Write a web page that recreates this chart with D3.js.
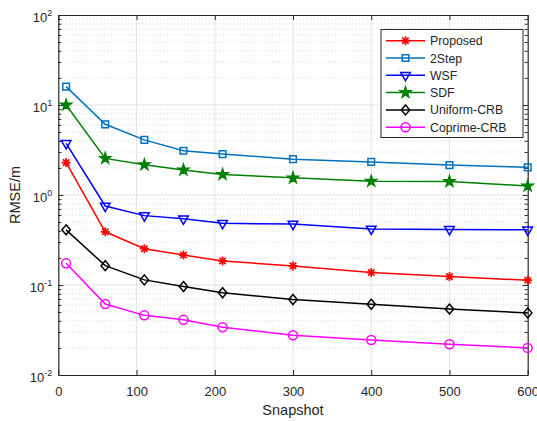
<!DOCTYPE html>
<html>
<head>
<meta charset="utf-8">
<script src="https://cdn.jsdelivr.net/npm/d3@7"></script>
<style>
  body { margin: 0; background: #fff; }
  text { font-family: 'Liberation Sans', Arial, sans-serif; fill: #262626; }
</style>
</head>
<body>
<figure style="margin:0"></figure>
<script>
const width = 537
const height = 421

// data
const snapshots = [10, 60, 110, 160, 210, 300, 400, 500, 600]
const proposed = [2.29, 0.39, 0.253, 0.215, 0.185, 0.163, 0.138, 0.124, 0.113]
const twoStep = [16, 6.1, 4.1, 3.1, 2.85, 2.5, 2.33, 2.15, 2.03]
const wsf = [3.75, 0.755, 0.59, 0.545, 0.485, 0.475, 0.42, 0.415, 0.41]
const sdf = [10, 2.55, 2.17, 1.9, 1.69, 1.55, 1.42, 1.41, 1.26]
const uniformCrb = [0.41, 0.164, 0.114, 0.096, 0.082, 0.069, 0.061, 0.054, 0.049]
const coprimeCrb = [0.174, 0.0615, 0.046, 0.041, 0.034, 0.0276, 0.0245, 0.022, 0.02]

const xTicks = [0, 100, 200, 300, 400, 500, 600]
const yDecades = [0.01, 0.1, 1, 10, 100]

const series = [
  { name: 'Proposed', values: proposed, color: '#ff0000', marker: 'asterisk' },
  { name: '2Step', values: twoStep, color: '#0072bd', marker: 'square' },
  { name: 'WSF', values: wsf, color: '#0000ff', marker: 'triangleDown' },
  { name: 'SDF', values: sdf, color: '#008000', marker: 'star' },
  { name: 'Uniform-CRB', values: uniformCrb, color: '#000000', marker: 'diamond' },
  { name: 'Coprime-CRB', values: coprimeCrb, color: '#ff00ff', marker: 'circle' }
]

const margin = { left: 58.3, right: 537 - 527.7, top: 15, bottom: 421 - 375 }

const x = d3.scaleLinear().domain([0, 600]).range([margin.left, width - margin.right])
const y = d3.scaleLog().domain([0.01, 100]).range([height - margin.bottom, margin.top])

const svg = d3.select('figure').append('svg')
  .attr('width', width)
  .attr('height', height)

const x0 = margin.left
const x1 = width - margin.right
const y0 = height - margin.bottom
const y1 = margin.top

// minor values for log grid
const minors = []
yDecades.slice(0, -1).forEach(d => {
  for (let k = 2; k <= 9; k++) minors.push(d * k)
})

const grid = svg.append('g')
grid.selectAll('.minor')
  .data(minors)
  .join('line')
  .attr('x1', x0).attr('x2', x1)
  .attr('y1', d => y(d)).attr('y2', d => y(d))
  .attr('stroke', '#c8c8c8')
  .attr('stroke-width', 0.8)
  .attr('stroke-dasharray', '1,2.5')

grid.selectAll('.majorY')
  .data(yDecades.slice(1, -1))
  .join('line')
  .attr('x1', x0).attr('x2', x1)
  .attr('y1', d => y(d)).attr('y2', d => y(d))
  .attr('stroke', '#e3e3e3')
  .attr('stroke-width', 1)

grid.selectAll('.majorX')
  .data(xTicks.slice(1, -1))
  .join('line')
  .attr('x1', d => x(d)).attr('x2', d => x(d))
  .attr('y1', y0).attr('y2', y1)
  .attr('stroke', '#e3e3e3')
  .attr('stroke-width', 1)

// axes
const axisColor = '#262626'
const styleAxis = g => {
  g.select('.domain').attr('stroke', axisColor).attr('stroke-width', 1.2)
  g.selectAll('.tick line').attr('stroke', axisColor)
}

svg.append('g')
  .attr('transform', `translate(0,${y0})`)
  .call(d3.axisBottom(x).tickValues(xTicks).tickSizeInner(-5).tickSizeOuter(0).tickPadding(12))
  .call(styleAxis)
  .call(g => g.selectAll('text').attr('font-size', 13).attr('fill', axisColor).attr('dy', '0')
    .attr('y', 21))

svg.append('g')
  .attr('transform', `translate(0,${y1})`)
  .call(d3.axisTop(x).tickValues(xTicks).tickSizeInner(-5).tickSizeOuter(0).tickFormat(''))
  .call(styleAxis)

const yLeft = svg.append('g')
  .attr('transform', `translate(${x0},0)`)
  .call(d3.axisLeft(y).tickValues(yDecades).tickSizeInner(-5).tickSizeOuter(0).tickPadding(12))
  .call(styleAxis)

yLeft.selectAll('.tick text')
  .attr('font-size', 13)
  .attr('fill', axisColor)
  .attr('dy', '0')
  .attr('x', -6)
  .attr('y', 6)
  .each(function (d) {
    const t = d3.select(this)
    const e = Math.round(Math.log10(d))
    t.text(null)
    t.append('tspan').text('10')
    t.append('tspan').attr('font-size', 9).attr('dy', -6).text(e)
  })

svg.append('g')
  .attr('transform', `translate(${x1},0)`)
  .call(d3.axisRight(y).tickValues(yDecades).tickSizeInner(-5).tickSizeOuter(0).tickFormat(''))
  .call(styleAxis)

// minor ticks left/right
svg.append('g')
  .attr('transform', `translate(${x0},0)`)
  .call(d3.axisLeft(y).tickValues(minors).tickSizeInner(-3).tickSizeOuter(0).tickFormat(''))
  .call(styleAxis)
  .call(g => g.select('.domain').remove())

svg.append('g')
  .attr('transform', `translate(${x1},0)`)
  .call(d3.axisRight(y).tickValues(minors).tickSizeInner(-3).tickSizeOuter(0).tickFormat(''))
  .call(styleAxis)
  .call(g => g.select('.domain').remove())

// axis titles
svg.append('text')
  .attr('x', (x0 + x1) / 2)
  .attr('y', 415)
  .attr('text-anchor', 'middle')
  .attr('font-size', 14.5)
  .attr('fill', axisColor)
  .text('Snapshot')

svg.append('text')
  .attr('transform', `translate(20,${(y0 + y1) / 2}) rotate(-90)`)
  .attr('text-anchor', 'middle')
  .attr('font-size', 14.5)
  .attr('fill', axisColor)
  .text('RMSE/m')

// markers
const drawMarker = (sel, marker, color) => {
  if (marker === 'asterisk') {
    const r = 4.5
    const d = r * Math.SQRT1_2
    sel.append('path')
      .attr('d', `M${-r},0L${r},0M0,${-r}L0,${r}M${-d},${-d}L${d},${d}M${-d},${d}L${d},${-d}`)
      .attr('stroke', color).attr('stroke-width', 1.7).attr('fill', 'none')
  } else if (marker === 'square') {
    sel.append('path').attr('d', d3.symbol(d3.symbolSquare, 44)())
      .attr('stroke', color).attr('stroke-width', 1.5).attr('fill', 'none')
  } else if (marker === 'triangleDown') {
    sel.append('path').attr('d', d3.symbol(d3.symbolTriangle, 40)())
      .attr('transform', 'rotate(180)')
      .attr('stroke', color).attr('stroke-width', 1.5).attr('fill', 'none')
  } else if (marker === 'star') {
    sel.append('path').attr('d', d3.symbol(d3.symbolStar, 42)())
      .attr('stroke', color).attr('stroke-width', 1.2).attr('fill', color)
  } else if (marker === 'diamond') {
    sel.append('path').attr('d', 'M0,-5L4.2,0L0,5L-4.2,0Z')
      .attr('stroke', color).attr('stroke-width', 1.5).attr('fill', 'none')
  } else {
    sel.append('circle').attr('r', 4.5)
      .attr('stroke', color).attr('stroke-width', 1.5).attr('fill', 'none')
  }
}

const line = d3.line()
  .x((d, i) => x(snapshots[i]))
  .y(d => y(d))

series.forEach(s => {
  const g = svg.append('g')
  g.append('path')
    .attr('d', line(s.values))
    .attr('fill', 'none')
    .attr('stroke', s.color)
    .attr('stroke-width', 1.5)

  g.selectAll('g')
    .data(s.values)
    .join('g')
    .attr('transform', (d, i) => `translate(${x(snapshots[i])},${y(d)})`)
    .each(function () { drawMarker(d3.select(this), s.marker, s.color) })
})

// legend
const legend = svg.append('g')
legend.append('rect')
  .attr('x', 381).attr('y', 29.5)
  .attr('width', 142).attr('height', 108)
  .attr('fill', '#fff')
  .attr('stroke', axisColor)
  .attr('stroke-width', 1)

const rows = legend.selectAll('.row')
  .data(series)
  .join('g')
  .attr('transform', (d, i) => `translate(0,${40.7 + i * 17.3})`)

rows.append('line')
  .attr('x1', 386).attr('x2', 425)
  .attr('stroke', d => d.color)
  .attr('stroke-width', 1.5)

rows.append('g')
  .attr('transform', 'translate(405.5,0)')
  .each(function (d) { drawMarker(d3.select(this), d.marker, d.color) })

rows.append('text')
  .attr('x', 430)
  .attr('y', 4.5)
  .attr('font-size', 12.3)
  .attr('fill', '#000')
  .text(d => d.name)
</script>
</body>
</html>
